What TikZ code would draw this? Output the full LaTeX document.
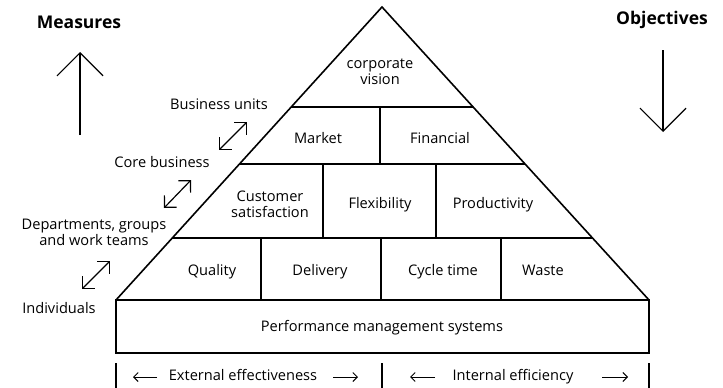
\documentclass[tikz,border=0pt]{standalone}
\usepackage{fontspec}
\setmainfont{Open Sans}
\usepackage{tikz}
\usetikzlibrary{arrows.meta,positioning}

\begin{document}
\begin{tikzpicture}[x=1pt,y=-1pt,
    lbl/.style={font=\fontsize{14.6}{16}\selectfont,align=center,inner sep=0pt,text depth=0.25em},
    oneline/.style={lbl,text height=0.95em},
    headlbl/.style={font=\bfseries\fontsize{17.5}{19}\selectfont,inner sep=0pt},
    outline/.style={line width=1.6pt,line join=miter},
    divider/.style={line width=1.3pt},
    bigarrow/.style={line width=1.2pt,-{Straight Barb[length=23pt,width=46pt]}},
    twoway/.style={line width=1.2pt,{Straight Barb[length=8.5pt,width=17pt]}-{Straight Barb[length=8.5pt,width=17pt]}},
    sidearrow/.style={line width=1pt,-{Straight Barb[length=4.5pt,width=9pt]}}]
    \useasboundingbox (0,0) rectangle (723,388);

    % Pyramid outline
    \coordinate (apex) at (382,7);
    \coordinate (baseL) at (116,300);
    \coordinate (baseR) at (649,300);
    \draw[outline] (baseL) -- (apex) -- (baseR);

    % Levels and blocks
    \draw[divider] (291,107) -- (473,107);
    \draw[divider] (239,164) -- (525,164);
    \draw[divider] (172,238) -- (592,238);
    \draw[divider] (380,107) -- (380,164);
    \draw[divider] (323,164) -- (323,238);
    \draw[divider] (436,164) -- (436,238);
    \draw[divider] (261,238) -- (261,300);
    \draw[divider] (381,238) -- (381,300);
    \draw[divider] (501,238) -- (501,300);

    % Foundation
    \draw[outline] (baseL) rectangle (649,353);
    \node[oneline] (pms) at (382,328) {Performance management systems};

    \node[lbl] (vision) at (380,73) {corporate\\vision};
    \node[oneline] (market) at (318,140) {Market};
    \node[oneline] (financial) at (440,140) {Financial};
    \node[lbl] (custsat) at (270,205) {Customer\\satisfaction};
    \node[oneline] (flex) at (380,205) {Flexibility};
    \node[oneline] (product) at (493,205) {Productivity};
    \node[oneline] (quality) at (212,272) {Quality};
    \node[oneline] (delivery) at (320,272) {Delivery};
    \node[oneline] (cycle) at (443,272) {Cycle time};
    \node[oneline] (waste) at (543,272) {Waste};

    % Side headings and arrows
    \node[headlbl] (measures) at (79,22) {Measures};
    \node[headlbl] (objectives) at (662,20) {Objectives};
    \coordinate (upS) at (80,135);
    \coordinate (upE) at (80,52);
    \draw[bigarrow] (upS) -- (upE);
    \coordinate (downS) at (663,50);
    \coordinate (downE) at (663,132);
    \draw[bigarrow] (downS) -- (downE);

    % Organisation levels
    \node[oneline] (bunits) at (219,106) {Business units};
    \node[oneline] (corebiz) at (162,164) {Core business};
    \node[lbl] (depts) at (94,234) {Departments, groups\\and work teams};
    \node[oneline] (indiv) at (59,310) {Individuals};
    \coordinate (aA) at (219,150);
    \coordinate (aB) at (247,122);
    \draw[twoway] (aA) -- (aB);
    \coordinate (bA) at (164,208);
    \coordinate (bB) at (191,180);
    \draw[twoway] (bA) -- (bB);
    \coordinate (cA) at (82,289);
    \coordinate (cB) at (110,261);
    \draw[twoway] (cA) -- (cB);

    % Effectiveness / efficiency scale
    \coordinate (tickL) at (116,363);
    \coordinate (tickM) at (382,363);
    \coordinate (tickR) at (649,363);
    \draw[divider] (tickL) -- ++(0,25);
    \draw[divider] (tickM) -- ++(0,25);
    \draw[divider] (tickR) -- ++(0,25);
    \node[oneline] (external) at (243,377) {External effectiveness};
    \node[oneline] (internal) at (513,377) {Internal efficiency};
    \coordinate (e1) at (157,377);
    \coordinate (e2) at (133,377);
    \draw[sidearrow] (e1) -- (e2);
    \coordinate (e3) at (333,377);
    \coordinate (e4) at (358,377);
    \draw[sidearrow] (e3) -- (e4);
    \coordinate (i1) at (435,377);
    \coordinate (i2) at (410,377);
    \draw[sidearrow] (i1) -- (i2);
    \coordinate (i3) at (602,377);
    \coordinate (i4) at (628,377);
    \draw[sidearrow] (i3) -- (i4);
\end{tikzpicture}
\end{document}
